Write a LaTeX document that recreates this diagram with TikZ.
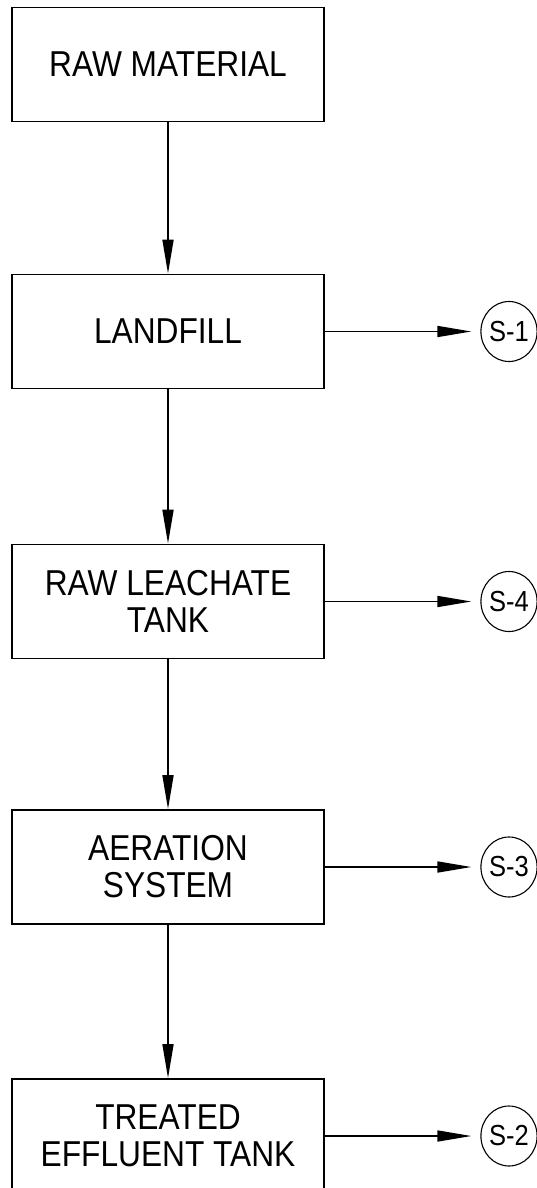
\documentclass[tikz,border=0pt]{standalone}
\usepackage{fontspec}
\setmainfont[FakeStretch=0.88]{Liberation Sans}
\usetikzlibrary{arrows.meta,shapes.geometric}
\tikzset{
  procbox/.style={draw, line width=1.7pt, minimum width=312pt, minimum height=114pt,
    inner sep=0pt, align=center, font=\fontsize{36}{37}\selectfont},
  streamtag/.style={draw, ellipse, line width=1.1pt, minimum width=55pt, minimum height=60pt,
    inner sep=0pt, font=\fontsize{29}{30}\selectfont},
  flow/.style={line width=1.6pt, -{Triangle[length=34pt,width=11pt]}},
  sideflow/.style={flow, shorten >=9pt}
}
\begin{document}
\begin{tikzpicture}[x=1pt,y=1pt]
\useasboundingbox (0,0) rectangle (537,-1188);
\node[procbox] (raw)  at (168,-64.5) {RAW MATERIAL};
\node[procbox] (land) at (168,-331.5) {LANDFILL};
\node[procbox] (leach) at (168,-601.5) {RAW LEACHATE\\TANK};
\node[procbox] (aer)  at (168,-867) {AERATION\\SYSTEM};
\node[procbox] (eff)  at (168,-1136) {TREATED\\EFFLUENT TANK};
\node[streamtag] (s1) at (509,-331.5) {S-1};
\node[streamtag] (s4) at (509,-601.5) {S-4};
\node[streamtag] (s3) at (509,-867) {S-3};
\node[streamtag] (s2) at (509,-1136) {S-2};
\draw[flow] (raw) -- (land);
\draw[flow] (land) -- (leach);
\draw[flow] (leach) -- (aer);
\draw[flow] (aer) -- (eff);
\draw[sideflow] (land) -- (s1);
\draw[sideflow] (leach) -- (s4);
\draw[sideflow] (aer) -- (s3);
\draw[sideflow] (eff) -- (s2);
\end{tikzpicture}
\end{document}
